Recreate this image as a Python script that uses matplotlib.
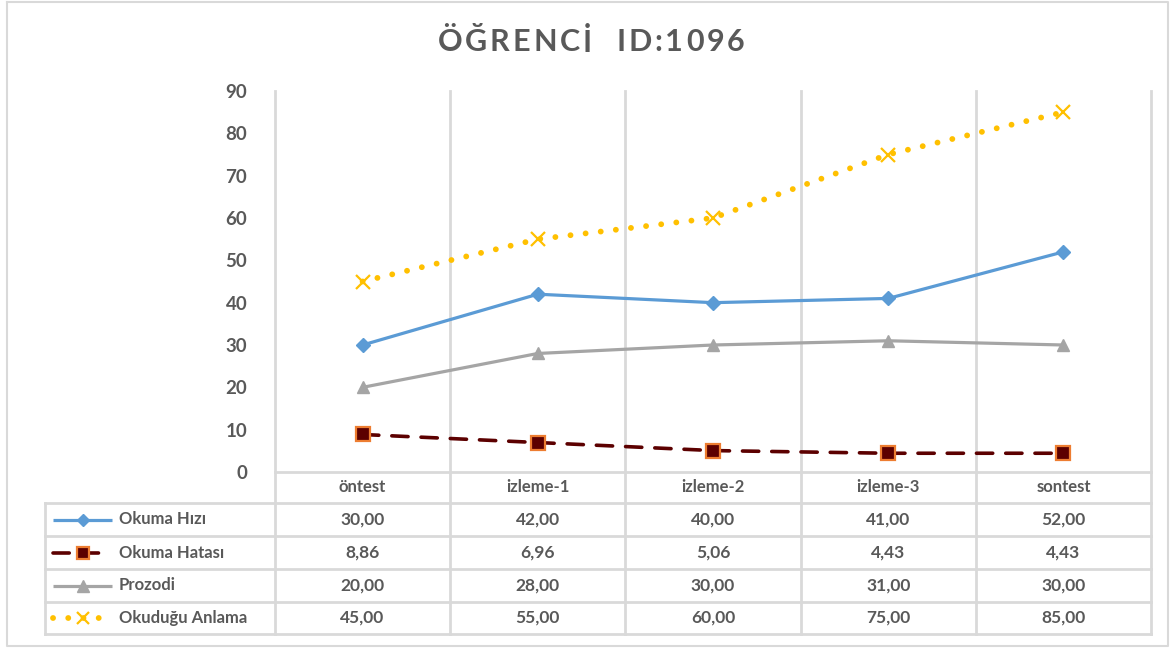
import matplotlib
matplotlib.use('Agg')
from matplotlib import pyplot as plt

# veriler
categories = ['öntest', 'izleme-1', 'izleme-2', 'izleme-3', 'sontest']
series_names = ['Okuma Hızı', 'Okuma Hatası', 'Prozodi', 'Okuduğu Anlama']
okuma_hizi = [30.00, 42.00, 40.00, 41.00, 52.00]
okuma_hatasi = [8.86, 6.96, 5.06, 4.43, 4.43]
prozodi = [20.00, 28.00, 30.00, 31.00, 30.00]
okudugu_anlama = [45.00, 55.00, 60.00, 75.00, 85.00]
y_ticks = [0, 10, 20, 30, 40, 50, 60, 70, 80, 90]
title = 'ÖĞRENCİ  ID:1096'

W, H = 1170, 648
txt_c = '#595959'
grid_c = '#D9D9D9'
plt.rcParams['font.family'] = ['Lato', 'DejaVu Sans']
plt.rcParams['font.weight'] = 'bold'

styles = [
    dict(color='#5B9BD5', lw=2.3, ls='-', marker='D', ms=7, mfc='#5B9BD5', mec='#5B9BD5', key_end=112),
    dict(color='#5C0000', lw=2.6, ls=(0, (4.5, 3.6)), marker='s', ms=10, mfc='#5C0000', mec='#ED7D31', mew=1.6, key_end=100),
    dict(color='#A5A5A5', lw=2.3, ls='-', marker='^', ms=9, mfc='#A5A5A5', mec='#A5A5A5', key_end=112),
    dict(color='#FFC000', lw=4.2, ls=(0, (0.01, 2.6)), marker='x', ms=10, mfc='#FFC000', mec='#FFC000', mew=1.6, key_end=105),
]
all_series = [okuma_hizi, okuma_hatasi, prozodi, okudugu_anlama]

fig = plt.figure(figsize=(W / 100, H / 100), dpi=100)

# arka plan: piksel koordinatlari ile tablo
bg = fig.add_axes([0, 0, 1, 1])
bg.set_xlim(0, W)
bg.set_ylim(H, 0)
bg.axis('off')

# dis cerceve
bg.plot([7, 1168, 1168, 7, 7], [1.5, 1.5, 646, 646, 1.5], color=grid_c, lw=1.5)

left, right = 275, 1151
top, zero_y = 91, 472
row_lines = [503, 536, 569, 602, 634]
col_w = (right - left) / len(categories)

# dikey cizgiler
for i in range(len(categories) + 1):
    x = left + i * col_w
    bg.plot([x, x], [top, row_lines[-1]], color=grid_c, lw=2)
bg.plot([45, 45], [row_lines[0], row_lines[-1]], color=grid_c, lw=2)
bg.plot([left, right], [zero_y, zero_y], color=grid_c, lw=2)
for y in row_lines:
    bg.plot([45, right], [y, y], color=grid_c, lw=2)

# kategori basliklari
for i, c in enumerate(categories):
    bg.text(left + (i + 0.5) * col_w, (zero_y + row_lines[0]) / 2, c,
            ha='center', va='center', fontsize=12, color=txt_c, fontweight='bold')

# satirlar
for r, (name, vals, st) in enumerate(zip(series_names, all_series, styles)):
    yc = (row_lines[r] + row_lines[r + 1]) / 2
    bg.plot([53, st['key_end']], [yc, yc], color=st['color'], lw=st['lw'], ls=st['ls'],
            dash_capstyle='round', solid_capstyle='butt')
    bg.plot([83], [yc], ls='none', marker=st['marker'], ms=st['ms'] * 0.9,
            mfc=st['mfc'], mec=st['mec'], mew=st.get('mew', 1))
    bg.text(119, yc, name, ha='left', va='center', fontsize=12, color=txt_c, fontweight='bold')
    for i, v in enumerate(vals):
        bg.text(left + (i + 0.5) * col_w, yc, f'{v:.2f}'.replace('.', ','),
                ha='center', va='center', fontsize=12.5, color=txt_c, fontweight='bold')

# baslik: harf araligi ile
renderer = fig.canvas.get_renderer()
spacing = 2.9
widths = []
for ch in title:
    t = bg.text(0, 0, ch if ch != ' ' else 'i', fontsize=22, fontweight='bold')
    widths.append(t.get_window_extent(renderer).width)
    t.remove()
total = sum(widths) + spacing * (len(title) - 1)
xpos = W / 2 + 6 - total / 2
for ch, w in zip(title, widths):
    if ch != ' ':
        bg.text(xpos, 42, ch, ha='left', va='center', fontsize=22,
                color=txt_c, fontweight='bold')
    xpos += w + spacing

# grafik alani
ax = fig.add_axes([left / W, 1 - zero_y / H, (right - left) / W, (zero_y - top) / H])
ax.patch.set_alpha(0)
x = [i + 0.5 for i in range(len(categories))]
for vals, st in zip(all_series, styles):
    ax.plot(x, vals, color=st['color'], lw=st['lw'], ls=st['ls'], marker=st['marker'],
            ms=st['ms'], mfc=st['mfc'], mec=st['mec'], mew=st.get('mew', 1),
            dash_capstyle='round', solid_capstyle='round', zorder=3)
ax.set_xlim(0, len(categories))
ax.set_ylim(0, 90)
ax.set_xticks([])
ax.set_yticks(y_ticks)
ax.set_yticklabels([str(t) for t in y_ticks], fontsize=13.5, color=txt_c, fontweight='bold')
ax.tick_params(axis='y', length=0, pad=20)
for s in ax.spines.values():
    s.set_visible(False)

fig.savefig('out.png', dpi=100, facecolor='white')
